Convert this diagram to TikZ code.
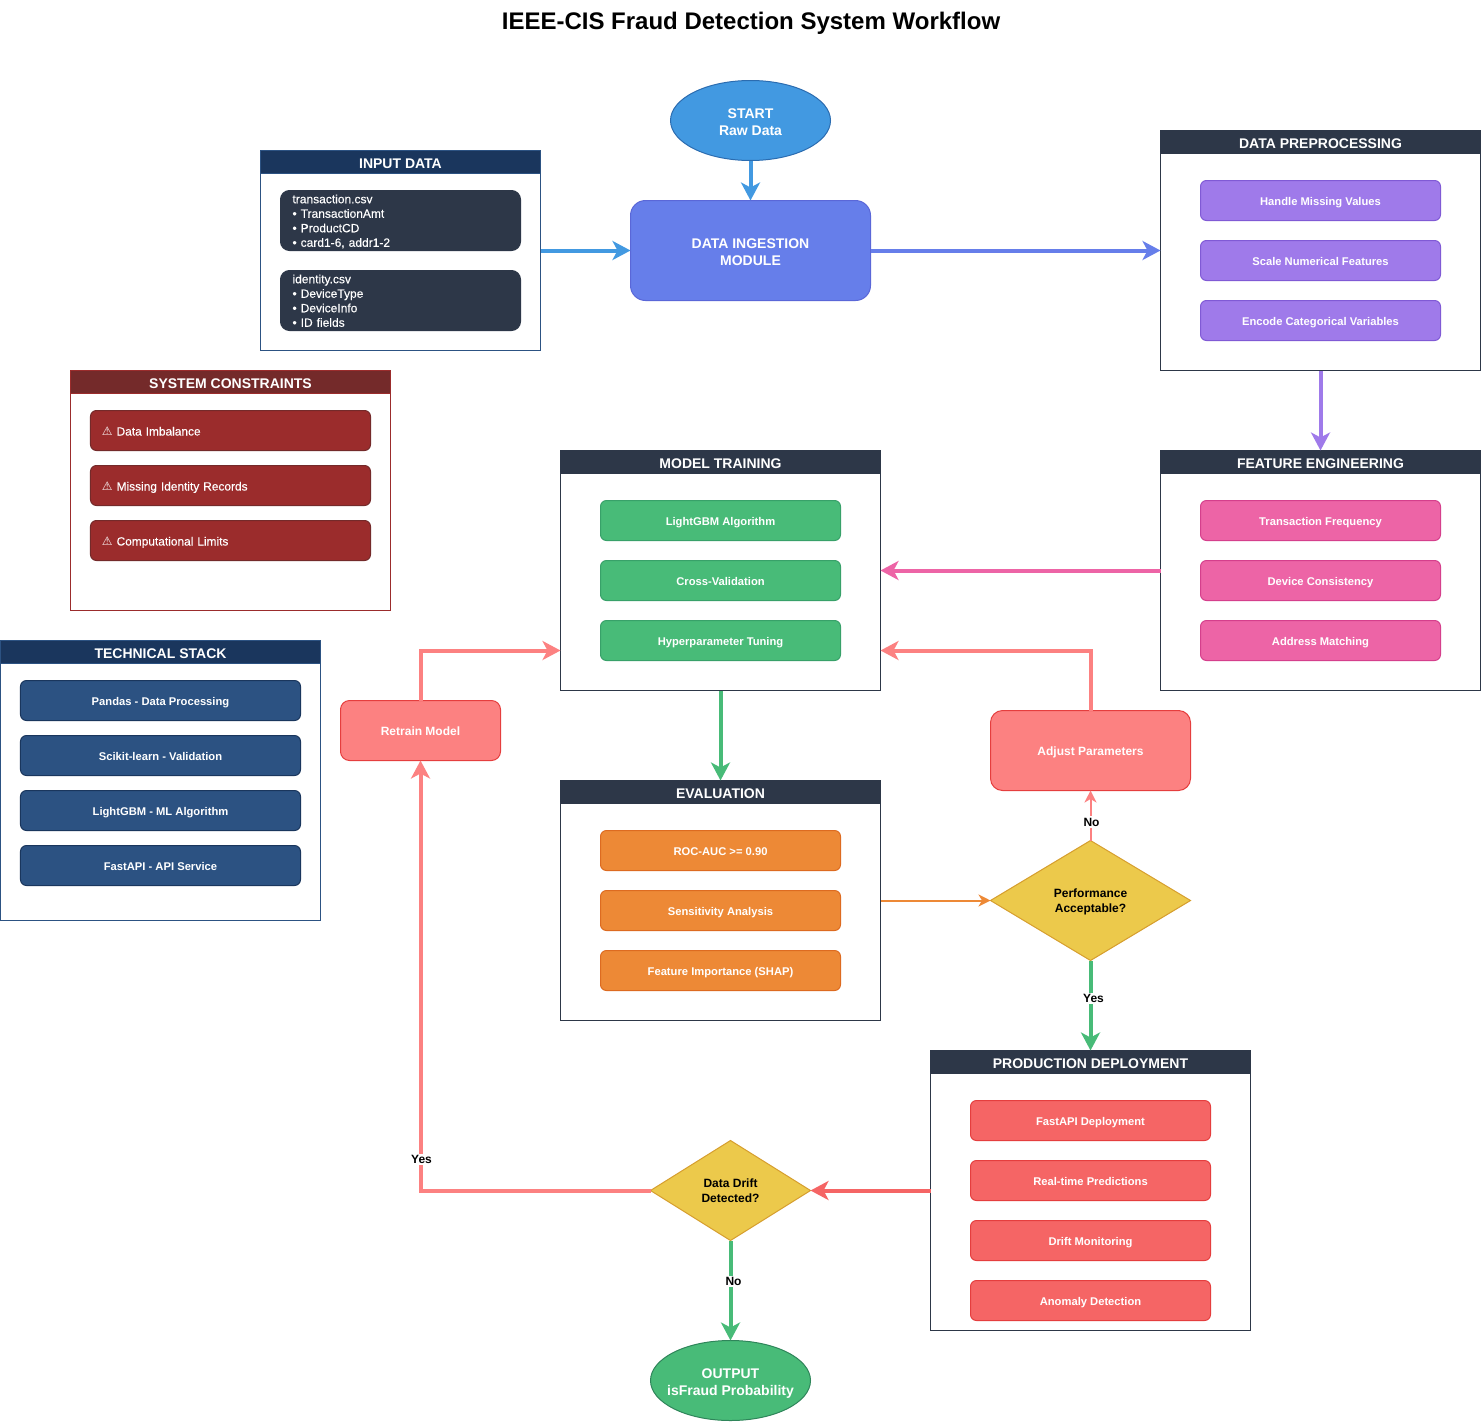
\documentclass[tikz,border=0pt]{standalone}
\usepackage{fontspec}
\setmainfont{Liberation Sans}
\newfontfamily\symbolfont{DejaVu Sans}
\newfontfamily\thickfont[FakeBold=0.2]{Liberation Sans}
\usetikzlibrary{shapes.geometric, arrows.meta}
\usetikzlibrary{matrix}
\usetikzlibrary{positioning}

\definecolor{navy}{HTML}{1A365D}
\definecolor{slate}{HTML}{2D3748}
\definecolor{steel}{HTML}{2C5282}
\definecolor{maroon}{HTML}{742A2A}
\definecolor{brick}{HTML}{9B2C2C}
\definecolor{sky}{HTML}{4299E1}
\definecolor{skyline}{HTML}{2B6CB0}
\definecolor{indigo}{HTML}{667EEA}
\definecolor{indigoline}{HTML}{5A67D8}
\definecolor{violet}{HTML}{9F7AEA}
\definecolor{violetline}{HTML}{805AD5}
\definecolor{rose}{HTML}{ED64A6}
\definecolor{roseline}{HTML}{D53F8C}
\definecolor{leaf}{HTML}{48BB78}
\definecolor{leafline}{HTML}{38A169}
\definecolor{leafdark}{HTML}{2F855A}
\definecolor{amber}{HTML}{ED8936}
\definecolor{amberline}{HTML}{DD6B20}
\definecolor{coral}{HTML}{F56565}
\definecolor{coralline}{HTML}{E53E3E}
\definecolor{salmon}{HTML}{FC8181}
\definecolor{gold}{HTML}{ECC94B}
\definecolor{goldline}{HTML}{D69E2E}

\begin{document}
\begin{tikzpicture}[x=1pt,y=-1pt,outer sep=0pt,line width=1pt,
small/.style={font=\fontsize{12}{14.5}\selectfont\bfseries},
cell/.style={rectangle,rounded corners=6pt,draw,text=white,minimum width=240pt,minimum height=40pt,inner sep=0pt,text height=12pt,text depth=2pt,font=\fontsize{11.2}{14}\selectfont\bfseries},
widecell/.style={cell,minimum width=280pt},
filecell/.style={rectangle,draw=slate,fill=slate,text=white,minimum width=240pt,minimum height=60pt,inner sep=0pt,rounded corners=9pt,text width=216pt,align=left,text height=9pt,text depth=43.5pt,font=\fontsize{12}{14.5}\selectfont\thickfont},
warncell/.style={widecell,fill=brick,draw=maroon,text width=257pt,align=left,font=\fontsize{11.9}{14.5}\selectfont\thickfont},
stack/.style={matrix of nodes,inner sep=0pt,row sep=19pt},
panel/.style={rectangle,draw=slate,fill=white,minimum width=320pt},
banner/.style={rectangle,fill=slate,draw=slate,text=white,minimum width=320pt,minimum height=23pt,inner sep=0pt,anchor=north,text height=14pt,text depth=1pt,font=\fontsize{14}{16}\selectfont\bfseries},
blockbox/.style={rectangle,draw,text=white,align=center,text height=29pt,text depth=0pt,font=\fontsize{14}{17}\selectfont\bfseries},
pill/.style={ellipse,draw,text=white,align=center,minimum width=160pt,minimum height=80pt,inner sep=0pt,text height=29pt,text depth=0pt,font=\fontsize{14}{17}\selectfont\bfseries},
choice/.style={diamond,draw=goldline,fill=gold,align=center,inner sep=0pt,text depth=0pt,small},
flow/.style={line width=4pt,-{Stealth[length=18pt,width=19pt,inset=5pt]}},
thinflow/.style={line width=2pt,-{Stealth[length=12pt,width=12pt,inset=3.5pt]}},
answer/.style={fill=white,inner sep=1.5pt,small}]

\useasboundingbox (-0.5,-0.5) rectangle (1481.5,1420.5);

\node (title) at (750.5,22.5) {\fontsize{24}{28}\selectfont\bfseries IEEE-CIS Fraud Detection System Workflow};

\node (start) [pill,fill=sky,draw=skyline] at (750,120) {START\\Raw Data};
\node (ingest) [blockbox,fill=indigo,draw=indigoline,rounded corners=15pt,minimum width=240pt,minimum height=100pt] at (750,250) {DATA INGESTION\\MODULE};

% input data
\node (input) [panel,draw=steel,minimum width=280pt,minimum height=200pt] at (400,250) {};
\node (inputhead) [banner,fill=navy,draw=steel,minimum width=280pt] at (input.north) {INPUT DATA};
\node (transaction) [filecell,below=17pt of inputhead] {transaction.csv\\• TransactionAmt\\• ProductCD\\• card1-6, addr1-2};
\node (identity) [filecell,below=20pt of transaction] {identity.csv\\• DeviceType\\• DeviceInfo\\• ID fields};

% constraints and stack
\node (limits) [panel,draw=brick,minimum height=240pt] at (230,490) {};
\node (limitshead) [banner,fill=maroon,draw=brick] at (limits.north) {SYSTEM CONSTRAINTS};
\matrix (limitsitems) [stack,row sep=14pt,nodes={warncell},below=16.5pt of limitshead]
{
{\symbolfont ⚠} Data Imbalance \\
{\symbolfont ⚠} Missing Identity Records \\
{\symbolfont ⚠} Computational Limits \\
};

\node (tech) [panel,draw=steel,minimum height=280pt] at (160,780) {};
\node (techhead) [banner,fill=navy,draw=steel] at (tech.north) {TECHNICAL STACK};
\matrix (techitems) [stack,row sep=14pt,nodes={widecell,fill=steel,draw=navy},below=16.5pt of techhead]
{
Pandas - Data Processing \\
Scikit-learn - Validation \\
LightGBM - ML Algorithm \\
FastAPI - API Service \\
};

% pipeline panels
\node (prep) [panel,minimum height=240pt] at (1320,250) {};
\node (prephead) [banner] at (prep.north) {DATA PREPROCESSING};
\matrix (prepitems) [stack,nodes={cell,fill=violet,draw=violetline},below=26.5pt of prephead]
{
Handle Missing Values \\
Scale Numerical Features \\
Encode Categorical Variables \\
};

\node (feature) [panel,minimum height=240pt] at (1320,570) {};
\node (featurehead) [banner] at (feature.north) {FEATURE ENGINEERING};
\matrix (featureitems) [stack,nodes={cell,fill=rose,draw=roseline},below=26.5pt of featurehead]
{
Transaction Frequency \\
Device Consistency \\
Address Matching \\
};

\node (train) [panel,minimum height=240pt] at (720,570) {};
\node (trainhead) [banner] at (train.north) {MODEL TRAINING};
\matrix (trainitems) [stack,nodes={cell,fill=leaf,draw=leafline},below=26.5pt of trainhead]
{
LightGBM Algorithm \\
Cross-Validation \\
Hyperparameter Tuning \\
};

\node (eval) [panel,minimum height=240pt] at (720,900) {};
\node (evalhead) [banner] at (eval.north) {EVALUATION};
\matrix (evalitems) [stack,nodes={cell,fill=amber,draw=amberline},below=26.5pt of evalhead]
{
ROC-AUC >= 0.90 \\
Sensitivity Analysis \\
Feature Importance (SHAP) \\
};

\node (deploy) [panel,minimum height=280pt] at (1090,1190) {};
\node (deployhead) [banner] at (deploy.north) {PRODUCTION DEPLOYMENT};
\matrix (deployitems) [stack,nodes={cell,fill=coral,draw=coralline},below=26.5pt of deployhead]
{
FastAPI Deployment \\
Real-time Predictions \\
Drift Monitoring \\
Anomaly Detection \\
};

% decisions and feedback
\node (retrain) [cell,small,fill=salmon,draw=coralline,rounded corners=9pt,minimum width=160pt,minimum height=60pt] at (420,730) {Retrain Model};
\node (adjust) [cell,small,fill=salmon,draw=coralline,rounded corners=12pt,minimum width=200pt,minimum height=80pt] at (1090,750) {Adjust Parameters};
\node (perf) [choice,minimum width=200pt,minimum height=120pt] at (1090,900) {Performance\\Acceptable?};
\node (drift) [choice,minimum width=160pt,minimum height=100pt] at (730,1190) {Data Drift\\Detected?};
\node (output) [pill,fill=leaf,draw=leafdark] at (730,1380) {OUTPUT\\\makebox[100pt]{isFraud Probability}};

\draw[flow,sky] (start) -- (ingest);
\draw[flow,sky] (input) -- (ingest);
\draw[flow,indigo] (ingest) -- (prep);
\draw[flow,violet] (prep) -- (feature);
\draw[flow,rose] (feature) -- (train);
\draw[flow,leaf] (train) -- (eval);
\draw[thinflow,amber] (eval) -- (perf);
\draw[thinflow,salmon] (perf) -- node (perfno) [answer,text=black,pos=0.37,xshift=1pt] {No} (adjust);
\draw[flow,leaf] (perf) -- node (perfyes) [answer,text=black,pos=0.42,xshift=3pt] {Yes} (deploy);
\draw[flow,salmon] (adjust.north) |- ([yshift=-80pt]train.east);
\draw[flow,coral] (deploy) -- (drift);
\draw[flow,salmon] (drift.west) -| node (driftyes) [answer,text=black,pos=0.536,xshift=1pt] {Yes} (retrain.south);
\draw[flow,salmon] (retrain.north) |- ([yshift=-80pt]train.west);
\draw[flow,leaf] (drift) -- node (driftno) [answer,text=black,pos=0.41,xshift=3pt] {No} (output);

\end{tikzpicture}
\end{document}
